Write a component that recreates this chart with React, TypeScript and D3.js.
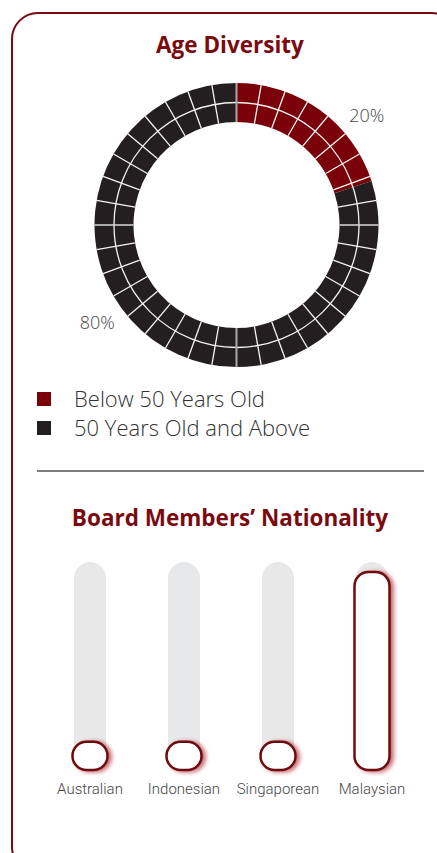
import React, { useEffect, useRef } from 'react';
import * as d3 from 'd3';

// Age diversity (percent)
const ageLabels = ['Below 50 Years Old', '50 Years Old and Above'];
const ageValues = [20, 80];
const ageColors = ['#7a0009', '#231f20'];
const ageLabelAngles = [50, 235]; // degrees, where the % labels sit

// Board members' nationality (head count)
const nationalities = ['Australian', 'Indonesian', 'Singaporean', 'Malaysian'];
const nationalityCounts = [1, 1, 1, 7];

const W = 437;
const H = 853;
const MAROON = '#7a0a10';

const App: React.FC = () => {
  const ref = useRef<SVGSVGElement | null>(null);

  useEffect(() => {
    document.body.style.margin = '0';
    if (!ref.current) return;
    const svg = d3.select(ref.current);
    svg.selectAll('*').remove();

    const defs = svg.append('defs');
    const glow = defs
      .append('filter')
      .attr('id', 'redGlow')
      .attr('x', '-50%')
      .attr('y', '-50%')
      .attr('width', '200%')
      .attr('height', '200%');
    glow
      .append('feDropShadow')
      .attr('dx', 3)
      .attr('dy', 1)
      .attr('stdDeviation', 2)
      .attr('flood-color', '#a3151f')
      .attr('flood-opacity', 0.65);
    const soft = defs.append('filter').attr('id', 'soft');
    soft.append('feGaussianBlur').attr('stdDeviation', 0.6);

    // card frame
    svg
      .append('rect')
      .attr('x', 12)
      .attr('y', 13)
      .attr('width', 446)
      .attr('height', 860)
      .attr('rx', 26)
      .attr('fill', 'none')
      .attr('stroke', MAROON)
      .attr('stroke-width', 2);

    const titleFont = '"Open Sans", "Noto Sans", sans-serif';

    svg
      .append('text')
      .attr('x', 230)
      .attr('y', 53)
      .attr('text-anchor', 'middle')
      .attr('font-family', titleFont)
      .attr('font-weight', 700)
      .attr('font-size', 22.5)
      .attr('fill', MAROON)
      .text('Age Diversity');

    // ---- donut ----
    const cx = 236.5;
    const cy = 225;
    const rOuter = 142;
    const rInner = 103;
    const rMid = 122.5;

    const pie = d3
      .pie<number>()
      .sort(null)
      .value(d => d);
    const arcs = pie(ageValues);
    const arc = d3
      .arc<d3.PieArcDatum<number>>()
      .innerRadius(rInner)
      .outerRadius(rOuter);

    const donut = svg.append('g').attr('transform', `translate(${cx},${cy})`);
    donut
      .selectAll('path.slice')
      .data(arcs)
      .enter()
      .append('path')
      .attr('class', 'slice')
      .attr('d', arc)
      .attr('fill', (_, i) => ageColors[i]);

    // grid of cells: middle ring + radial spokes every 10 degrees
    donut
      .append('circle')
      .attr('r', rMid)
      .attr('fill', 'none')
      .attr('stroke', '#f4f4f4')
      .attr('stroke-width', 1.3);

    const spokes = d3.range(0, 360, 10);
    donut
      .selectAll('line.spoke')
      .data(spokes)
      .enter()
      .append('line')
      .attr('class', 'spoke')
      .attr('x1', d => d3.pointRadial((d * Math.PI) / 180, rInner)[0])
      .attr('y1', d => d3.pointRadial((d * Math.PI) / 180, rInner)[1])
      .attr('x2', d => d3.pointRadial((d * Math.PI) / 180, rOuter)[0])
      .attr('y2', d => d3.pointRadial((d * Math.PI) / 180, rOuter)[1])
      .attr('stroke', d => (d % 180 === 0 ? '#a8a8a8' : d % 90 === 0 ? '#d8d8d8' : '#f4f4f4'))
      .attr('stroke-width', d => (d % 180 === 0 ? 2 : 1.3));

    donut
      .selectAll('text.pct')
      .data(arcs)
      .enter()
      .append('text')
      .attr('class', 'pct')
      .attr('x', (_, i) => d3.pointRadial((ageLabelAngles[i] * Math.PI) / 180, 170)[0])
      .attr('y', (_, i) => d3.pointRadial((ageLabelAngles[i] * Math.PI) / 180, 170)[1])
      .attr('dy', '0.36em')
      .attr('text-anchor', 'middle')
      .attr('font-family', titleFont)
      .attr('font-weight', 300)
      .attr('font-size', 18)
      .attr('fill', '#444')
      .text(d => `${d.data}%`);

    // legend
    const legend = svg
      .selectAll('g.legend')
      .data(ageLabels)
      .enter()
      .append('g')
      .attr('class', 'legend')
      .attr('transform', (_, i) => `translate(37,${392 + i * 29})`);
    legend
      .append('rect')
      .attr('width', 14)
      .attr('height', 14)
      .attr('fill', (_, i) => ageColors[i]);
    legend
      .append('text')
      .attr('x', 37)
      .attr('y', 15)
      .attr('font-family', titleFont)
      .attr('font-weight', 300)
      .attr('font-size', 22)
      .attr('fill', '#333')
      .text(d => d);

    // separator
    svg
      .append('line')
      .attr('x1', 37)
      .attr('x2', 424)
      .attr('y1', 471)
      .attr('y2', 471)
      .attr('stroke', '#555')
      .attr('stroke-width', 1.5);

    svg
      .append('text')
      .attr('x', 230)
      .attr('y', 526)
      .attr('text-anchor', 'middle')
      .attr('font-family', titleFont)
      .attr('font-weight', 700)
      .attr('font-size', 22.5)
      .attr('fill', MAROON)
      .text('Board Members\u2019 Nationality');

    // ---- nationality pills ----
    const baseY = 770;
    const trackTop = 562;
    const x = d3
      .scalePoint<string>()
      .domain(nationalities)
      .range([90, 372]);
    const h = d3
      .scaleLinear()
      .domain([0, d3.max(nationalityCounts) ?? 1])
      .range([0, 198]);

    const trackW = 32;
    const pillW = 35;

    const cols = svg
      .selectAll('g.col')
      .data(nationalities)
      .enter()
      .append('g')
      .attr('class', 'col');

    cols
      .append('rect')
      .attr('x', d => (x(d) ?? 0) - trackW / 2)
      .attr('y', trackTop)
      .attr('width', trackW)
      .attr('height', baseY - trackTop - 10)
      .attr('rx', trackW / 2)
      .attr('fill', (_, i) => (i === 1 ? '#e6e8ea' : '#e8e8e8'))
      .attr('filter', 'url(#soft)');

    cols
      .append('rect')
      .attr('x', d => (x(d) ?? 0) - pillW / 2)
      .attr('y', (_, i) => baseY - h(nationalityCounts[i]))
      .attr('width', pillW)
      .attr('height', (_, i) => h(nationalityCounts[i]))
      .attr('rx', 14)
      .attr('fill', '#fff')
      .attr('stroke', '#6e0a10')
      .attr('stroke-width', 2.5)
      .attr('filter', 'url(#redGlow)');

    cols
      .append('text')
      .attr('x', d => x(d) ?? 0)
      .attr('y', 794)
      .attr('text-anchor', 'middle')
      .attr('font-family', 'Roboto, "Noto Sans", sans-serif')
      .attr('font-weight', 300)
      .attr('font-size', 15)
      .attr('fill', '#444')
      .text(d => d);
  }, []);

  return <svg ref={ref} width={W} height={H} style={{ display: 'block' }} />;
};

export default App;
